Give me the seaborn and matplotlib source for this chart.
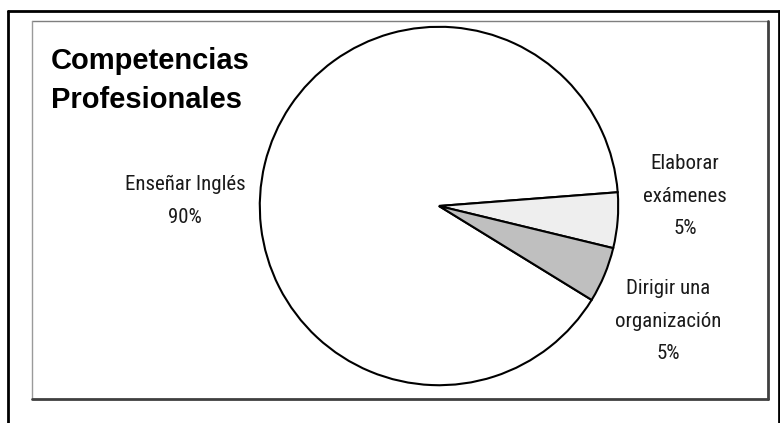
import matplotlib
matplotlib.use("Agg")
import matplotlib.pyplot as plt
from matplotlib.lines import Line2D
import seaborn as sns

# data
labels = ['Enseñar Inglés', 'Elaborar\nexámenes', 'Dirigir una\norganización']
values = [90, 5, 5]
colors = ['#ffffff', '#eeeeee', '#bfbfbf']
title = 'Competencias\nProfesionales'

sns.set_theme(style="white")
plt.rcParams['font.family'] = ['Liberation Sans', 'DejaVu Sans']
narrow = ['Roboto Condensed', 'PT Sans Narrow', 'Liberation Sans', 'DejaVu Sans']

W, H = 780, 423
fig = plt.figure(figsize=(W / 100, H / 100), dpi=100)
fig.patch.set_facecolor('white')

# pie axes: centre (439, 206) px, radius 181 px
cx, cy, r = 439, 206, 181
ax = fig.add_axes([(cx - r) / W, (H - cy - r) / H, 2 * r / W, 2 * r / H])
ax.pie(values, colors=colors, startangle=328.4, counterclock=False,
       wedgeprops=dict(edgecolor='black', linewidth=1.5))
ax.set_xlim(-1.01, 1.01)
ax.set_ylim(-1.01, 1.01)
ax.set_axis_off()

def px(x, y):
    return x / W, 1 - y / H

# outer frame
for (x0, y0), (x1, y1) in [((8, 11), (779, 11)), ((8, 11), (8, 430)), ((779, 11), (779, 430))]:
    a, b = px(x0, y0)
    c, d = px(x1, y1)
    fig.add_artist(Line2D([a, c], [b, d], color='black', lw=2.0, transform=fig.transFigure))

# plot area box: light top/left, dark bottom/right
for (x0, y0), (x1, y1), col, lw in [((32, 21), (768, 21), '#7f7f7f', 1.0),
                                    ((32, 21), (32, 399), '#9a9a9a', 1.0),
                                    ((768, 21), (768, 399), '#404040', 2.0),
                                    ((32, 399), (768, 399), '#404040', 2.0)]:
    a, b = px(x0, y0)
    c, d = px(x1, y1)
    fig.add_artist(Line2D([a, c], [b, d], color=col, lw=lw, transform=fig.transFigure))

# title
fig.text(*px(51, 47), title, fontsize=21, fontweight='bold', ha='left', va='top',
         linespacing=1.49, color='black')

# slice labels
label_pos = [(185, 201), (685, 196), (668, 321)]
for lab, v, (x, y) in zip(labels, values, label_pos):
    fig.text(*px(x, y), f'{lab}\n{v}%', family=narrow, fontsize=15, ha='center',
             va='center', multialignment='center', linespacing=1.88, color='#1a1a1a')

fig.savefig('out.png', dpi=100)
